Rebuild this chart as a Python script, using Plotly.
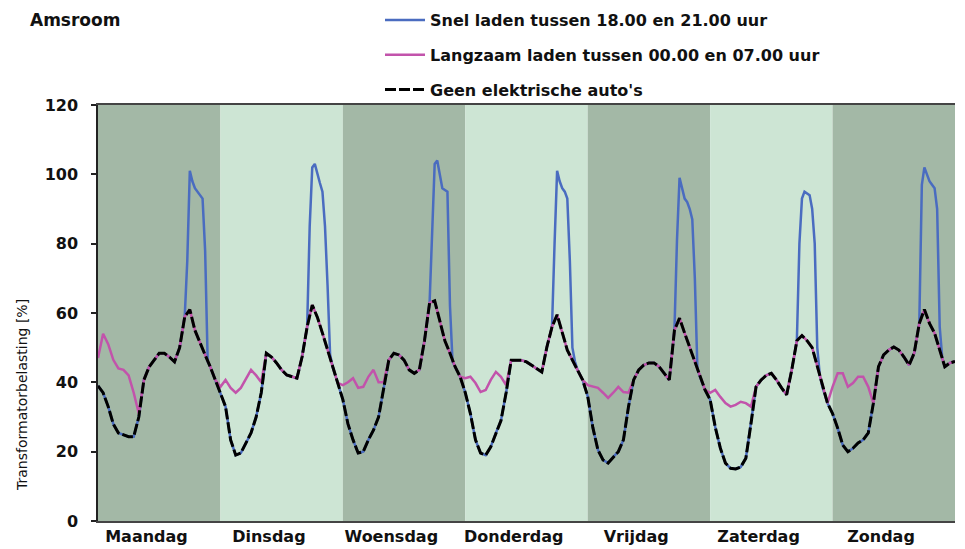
import plotly.graph_objects as go

# ---------------- data ----------------
days = ["Maandag", "Dinsdag", "Woensdag", "Donderdag", "Vrijdag", "Zaterdag", "Zondag"]

# base load without EVs, hourly values h0..h23 per day (% of transformer capacity)
base_mon = [39, 37, 33, 28, 25.4, 24.8, 24.3, 24.3, 30, 40.7, 44.4, 46.4, 48.4, 48.4, 47.3, 45.9, 50, 58.9, 61, 55, 51.3, 47.9, 44.5, 40.7]
base_tue = [37, 33, 23.4, 19, 19.6, 22.5, 25.4, 30, 37, 48.4, 47.3, 45.6, 43.6, 42.1, 41.6, 41.2, 47.3, 56, 62.3, 58.8, 54.2, 49.3, 44.5, 39.8]
base_wed = [35, 28, 23.4, 19.6, 20, 23.4, 26.2, 30, 38.7, 46.4, 48.4, 47.9, 46.4, 43.6, 42.6, 43.6, 52, 62.9, 63.5, 58, 52, 48.4, 44.5, 41.6]
base_thu = [37, 31, 23.4, 19.6, 19, 21.4, 25.4, 29, 37, 46.4, 46.4, 46.4, 45.9, 45, 44.1, 43, 50.2, 56, 59.5, 54.2, 49.3, 46.4, 43.6, 40.7]
base_fri = [36, 27, 20.5, 17.6, 16.7, 18.5, 20, 23.4, 33, 40.7, 43.6, 45, 45.6, 45.6, 44.5, 42.6, 40.7, 55, 58.5, 54.2, 50.2, 45.6, 41.6, 37.8]
base_sat = [35, 27.1, 21, 16.7, 15.2, 15, 15.6, 18.1, 28, 38.7, 40.7, 42, 42.6, 40.7, 38.4, 36.4, 43.6, 52, 53.5, 52, 50, 44.5, 38.7, 34]
base_sun = [31, 26.8, 21.9, 20, 21, 22.5, 23.4, 25.4, 34, 44.5, 47.9, 49.3, 50.2, 49.3, 47.3, 45, 48.4, 57, 61, 57, 54.2, 49.3, 44.5, 45.6]
base_end = 46  # value at the end of Sunday (hour 168)

# slow charging (00.00-07.00): load at hours h0..h8 of each day
slow_mon = [47, 54, 51, 46.5, 44, 43.6, 42, 37, 31]
slow_tue = [38.7, 40.7, 38.4, 37, 38.4, 41.2, 43.6, 42, 40]
slow_wed = [39.2, 40, 41.2, 38.4, 38.7, 41.6, 43.6, 40, 40]
slow_thu = [41.2, 41.6, 39.8, 37.2, 37.8, 40.7, 43, 41.6, 39.2]
slow_fri = [39.2, 38.7, 38.4, 37, 35.5, 37, 38.7, 37.2, 37]
slow_sat = [37, 37.8, 35.8, 34, 33, 33.5, 34.4, 34, 33]
slow_sun = [38.7, 42.6, 42.6, 38.7, 39.8, 41.6, 41.6, 38.7, 34]

# fast charging (18.00-21.00): load at half-hour steps during the evening of each day
fast_hours = [17.5, 18, 18.5, 19, 19.5, 20, 20.5, 21, 21.5]
fast_mon = [75, 101, 98, 96, 95, 94, 93, 78, 46]
fast_tue = [85, 102, 103, 100, 97.5, 95, 85, 68, 48]
fast_wed = [83, 103, 104, 100, 96, 95.5, 95, 62, 46]
fast_thu = [80, 101, 98, 96, 95, 93, 75, 50, 46]
fast_fri = [81, 99, 96, 93, 92, 90, 87, 70, 44]
fast_sat = [80, 93, 95, 94.5, 94, 90, 80, 50, 42]
fast_sun = [97, 102, 100, 98, 97, 96, 90, 56, 47]

base_days = [base_mon, base_tue, base_wed, base_thu, base_fri, base_sat, base_sun]
slow_days = [slow_mon, slow_tue, slow_wed, slow_thu, slow_fri, slow_sat, slow_sun]
fast_days = [fast_mon, fast_tue, fast_wed, fast_thu, fast_fri, fast_sat, fast_sun]

# ---------------- assemble series ----------------
base_x, base_y = [], []
for d, vals in enumerate(base_days):
    for h, v in enumerate(vals):
        base_x.append(24 * d + h)
        base_y.append(v)
base_x.append(168)
base_y.append(base_end)

slow_x, slow_y = list(base_x), list(base_y)
for d, vals in enumerate(slow_days):
    for h, v in enumerate(vals):
        slow_y[24 * d + h] = v

fast_x, fast_y = [], []
for d, vals in enumerate(base_days):
    for h in range(0, 18):
        fast_x.append(24 * d + h)
        fast_y.append(vals[h])
    for fh, fv in zip(fast_hours, fast_days[d]):
        fast_x.append(24 * d + fh)
        fast_y.append(fv)
    for h in range(22, 24):
        fast_x.append(24 * d + h)
        fast_y.append(vals[h])
fast_x.append(168)
fast_y.append(base_end)

# ---------------- figure ----------------
FONT = "DejaVu Sans, Liberation Sans, Arial, sans-serif"
DARK = "#a3b8a6"
LIGHT = "#cde5d4"

fig = go.Figure()
fig.add_trace(go.Scatter(
    x=fast_x, y=fast_y, mode="lines", name="Snel laden tussen 18.00 en 21.00 uur",
    line=dict(color="#4a6cc0", width=2.5), legendgroup="a"))
fig.add_trace(go.Scatter(
    x=slow_x, y=slow_y, mode="lines", name="Langzaam laden tussen 00.00 en 07.00 uur",
    line=dict(color="#c253ab", width=2.5), legendgroup="b"))
fig.add_trace(go.Scatter(
    x=base_x, y=base_y, mode="lines", name="Geen elektrische auto's",
    line=dict(color="black", width=3, dash="11px,3px"), legendgroup="c"))

for d in range(7):
    fig.add_shape(type="rect", xref="x", yref="paper", x0=24 * d, x1=24 * (d + 1), y0=0, y1=1,
                  fillcolor=DARK if d % 2 == 0 else LIGHT, line=dict(width=0), layer="below")

# page body has an 8px margin, so the figure is shifted by 8px right and down
fig.update_layout(
    width=957, height=541,
    margin=dict(l=90, r=10, t=97, b=28, autoexpand=False),
    paper_bgcolor="white", plot_bgcolor="white",
    font=dict(family=FONT, color="#111", size=15),
    showlegend=True,
    legend=dict(x=(380 - 98) / 857, xanchor="left", y=(521 - 3) / 416, yanchor="top",
                orientation="v", tracegroupgap=11, itemwidth=40,
                bgcolor="rgba(0,0,0,0)",
                font=dict(family=FONT, size=16, weight="bold", color="#111")),
    xaxis=dict(range=[0, 168], tickvals=[24 * d + 9.5 for d in range(7)], ticktext=days,
               ticks="", showgrid=False, zeroline=False, showline=True, linecolor="#444",
               linewidth=2, mirror=True,
               tickfont=dict(family=FONT, size=16, weight="bold", color="#111")),
    yaxis=dict(range=[0, 120], tick0=0, dtick=20, ticks="outside", ticklen=5, tickwidth=1.5,
               tickcolor="#222", showgrid=False, zeroline=False, showline=True,
               linecolor="#222", linewidth=1.5, ticklabelstandoff=10,
               tickfont=dict(family=FONT, size=16, weight="bold", color="#111")),
    annotations=[
        dict(text="Amsroom", xref="paper", yref="paper", x=(28 - 98) / 857, y=(521 - 8) / 416,
             xanchor="left", yanchor="top", showarrow=False,
             font=dict(family=FONT, size=17, weight="bold", color="#111")),
        dict(text="Transformatorbelasting [%]", xref="paper", yref="paper",
             x=(22 - 98) / 857, y=(521 - 395) / 416, xanchor="center", yanchor="middle",
             textangle=-90, showarrow=False,
             font=dict(family=FONT, size=14, color="#111")),
    ],
)

fig.write_html("out.html")
